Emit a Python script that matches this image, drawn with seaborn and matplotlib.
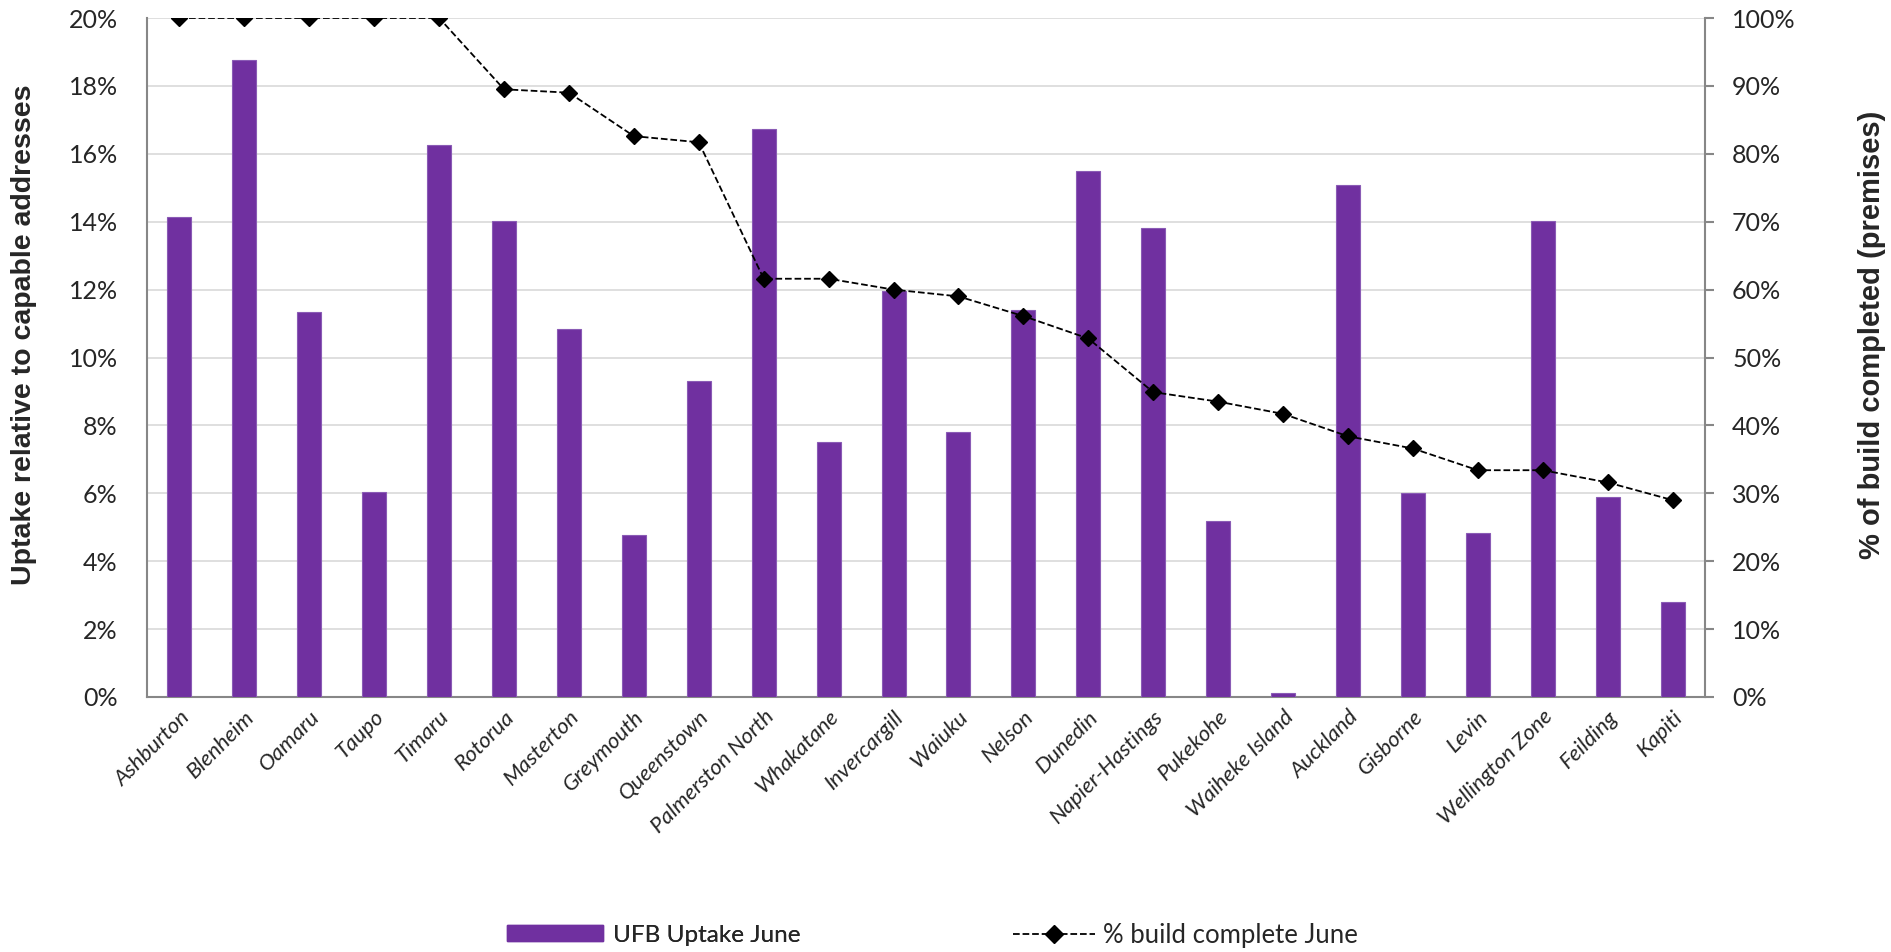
import matplotlib
matplotlib.use("Agg")
import matplotlib.pyplot as plt
import seaborn as sns
import pandas as pd
from matplotlib.ticker import PercentFormatter, MultipleLocator
from matplotlib.lines import Line2D
from matplotlib.patches import Patch

cities = ["Ashburton", "Blenheim", "Oamaru", "Taupo", "Timaru", "Rotorua", "Masterton",
          "Greymouth", "Queenstown", "Palmerston North", "Whakatane", "Invercargill",
          "Waiuku", "Nelson", "Dunedin", "Napier-Hastings", "Pukekohe", "Waiheke Island",
          "Auckland", "Gisborne", "Levin", "Wellington Zone", "Feilding", "Kapiti"]
uptake = [14.15, 18.75, 11.33, 6.04, 16.25, 14.03, 10.83, 4.76, 9.31, 16.72, 7.5, 11.97,
          7.8, 11.4, 15.49, 13.8, 5.19, 0.12, 15.08, 6.0, 4.83, 14.03, 5.88, 2.8]
build = [100, 100, 100, 100, 100, 89.5, 89.0, 82.6, 81.7, 61.6, 61.6, 60.0, 59.0, 56.1,
         52.8, 44.9, 43.5, 41.7, 38.4, 36.6, 33.4, 33.4, 31.6, 29.0]

bar_label = "UFB Uptake June"
line_label = "% build complete June"
ylabel_left = "Uptake relative to capable addresses"
ylabel_right = "% of build completed (premises)"

df = pd.DataFrame({"city": cities, "uptake": uptake, "build": build})

sns.set_theme(style="white")
plt.rcParams["font.family"] = ["Lato", "DejaVu Sans"]

purple = "#7030A0"
grid_c = "#D9D9D9"
spine_c = "#878787"
label_font = ["Liberation Sans", "DejaVu Sans"]

W, H = 1891, 952
x0, x1, y0, y1 = 147, 1705, 18, 697

fig = plt.figure(figsize=(W / 100, H / 100), dpi=100)
ax = fig.add_axes([x0 / W, 1 - y1 / H, (x1 - x0) / W, (y1 - y0) / H])

sns.barplot(data=df, x="city", y="uptake", color=purple, width=0.37, ax=ax,
            saturation=1, edgecolor="#8A5BB5", linewidth=0.8, zorder=3)
ax.set_ylim(0, 20)
ax.set_xlim(-0.5, len(cities) - 0.5)
ax.yaxis.set_major_locator(MultipleLocator(2))
ax.yaxis.set_major_formatter(PercentFormatter(decimals=0))
ax.grid(axis="y", color=grid_c, linewidth=1.2, zorder=0)
ax.set_axisbelow(True)
ax.set_xlabel("")
ax.set_ylabel(ylabel_left, fontsize=20.5, fontweight="bold", family=label_font)
ax.yaxis.set_label_coords((37 - x0) / (x1 - x0), (y1 - 335) / (y1 - y0))
ax.tick_params(axis="y", length=0, pad=21, labelsize=18)
ax.tick_params(axis="x", length=0, pad=7)
ax.set_xticks(range(len(cities)))
ax.set_xticklabels(cities, rotation=45, ha="right", rotation_mode="anchor",
                   fontsize=16, style="italic")
for s in ["top", "right"]:
    ax.spines[s].set_visible(False)
for s in ["left", "bottom"]:
    ax.spines[s].set_color(spine_c)
    ax.spines[s].set_linewidth(1.5)

ax2 = ax.twinx()
sns.pointplot(data=df, x="city", y="build", ax=ax2, color="black", markers="D",
              linestyles="--", markersize=8, linewidth=1.3, zorder=5)
ax2.set_ylim(0, 100)
ax2.set_xlim(-0.5, len(cities) - 0.5)
ax2.yaxis.set_major_locator(MultipleLocator(10))
ax2.yaxis.set_major_formatter(PercentFormatter(decimals=0))
ax2.set_ylabel(ylabel_right, fontsize=21, fontweight="bold", family=label_font)
ax2.yaxis.set_label_coords((1858 - x0) / (x1 - x0), (y1 - 335) / (y1 - y0))
ax2.tick_params(axis="y", length=6.5, width=1.5, color=spine_c, direction="out",
                pad=13, labelsize=18)
ax2.set_xlabel("")
for s in ["top", "left", "bottom"]:
    ax2.spines[s].set_visible(False)
ax2.spines["right"].set_color(spine_c)
ax2.spines["right"].set_linewidth(1.5)
ax2.tick_params(axis="x", labelbottom=False, length=0)

leg_y = 1 - 935 / H
leg1 = fig.legend([Patch(facecolor=purple, edgecolor=purple)], [bar_label],
                  loc="center left", bbox_to_anchor=(507 / W, leg_y), frameon=False,
                  borderpad=0, borderaxespad=0, handlelength=3.95, handleheight=0.6,
                  handletextpad=0.4, prop={"size": 17.5})
fig.add_artist(leg1)
fig.legend([Line2D([0], [0], color="black", linestyle="--", marker="D", markersize=9,
                   linewidth=1.3)], [line_label],
           loc="center left", bbox_to_anchor=(1013 / W, leg_y), frameon=False,
           borderpad=0, borderaxespad=0, handlelength=3.2, handletextpad=0.3,
           prop={"size": 18.5})

fig.savefig("out.png", dpi=100)
